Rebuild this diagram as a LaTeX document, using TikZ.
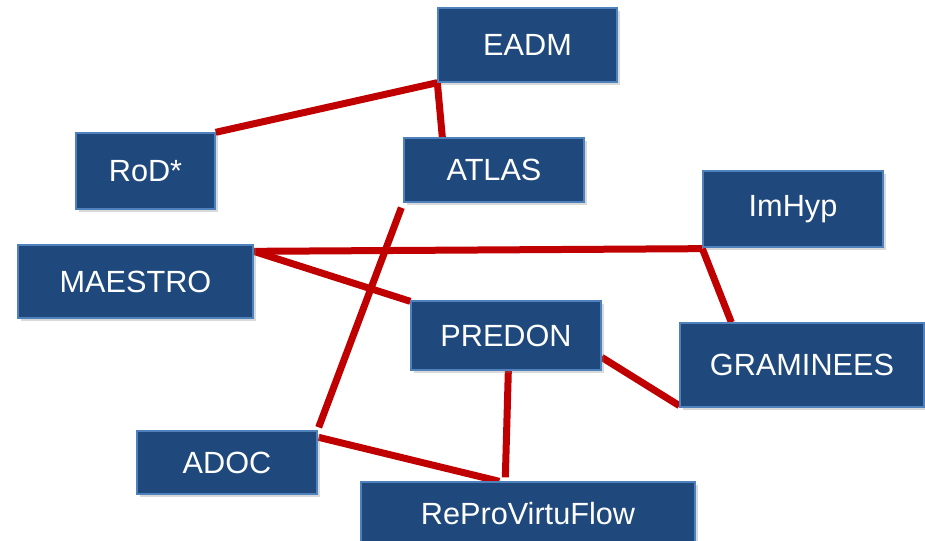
\documentclass[tikz,border=0pt]{standalone}
\usepackage{fontspec}
\setmainfont{Liberation Sans}
\usetikzlibrary{calc,shadows,backgrounds}
\definecolor{boxfill}{RGB}{31,73,125}
\definecolor{boxedge}{RGB}{79,129,189}
\definecolor{linkred}{RGB}{192,0,0}
\tikzset{
	proj/.style={draw=boxedge, line width=1pt, fill=boxfill, text=white,
		inner sep=0pt, font=\fontsize{23}{27}\selectfont,
		drop shadow={shadow xshift=2pt, shadow yshift=-2.5pt, opacity=0.3}},
	size/.style 2 args={minimum width=#1*0.75pt, minimum height=#2*0.75pt},
	link/.style={draw=linkred, line width=5.25pt}
}
\begin{document}
\begin{tikzpicture}[x=0.75pt,y=-0.75pt]
	\useasboundingbox (0,0) rectangle (925,541);
	%projets
	\node[proj,size={179}{74}] (eadm) at (527.5,45) {EADM};
	\node[proj,size={139}{76}] (rod) at (145.5,171) {RoD*};
	\node[proj,size={180}{64}] (atlas) at (494,170) {ATLAS};
	\node[proj,size={180}{76}] (imhyp) at (793,209) {ImHyp};
	\node[proj,size={235}{73}] (maestro) at (135.5,281.5) {MAESTRO};
	\node[proj,size={190}{69}] (predon) at (506,335.5) {PREDON};
	\node[proj,size={244}{84}] (graminees) at (802,365) {GRAMINEES};
	\node[proj,size={180}{63}] (adoc) at (227,462.5) {ADOC};
	\node[proj,size={334}{63}] (repro) at (528,513.5) {ReProVirtuFlow};
	%liens
	\begin{scope}[on background layer]
	\draw [link] (rod.north east) -- (eadm.south west);
	\draw [link] (eadm.south west) -- ($(atlas.north west)+(39,0)$);
	\draw [link] ($(atlas.south west)+(-2,5)$) -- ($(adoc.north east)+(1,-3)$);
	\draw [link] ($(maestro.north east)+(0,7)$) -- ($(imhyp.south west)+(0,1)$);
	\draw [link] ($(imhyp.south west)+(0,1)$) -- ($(graminees.north west)+(52,0)$);
	\draw [link] ($(maestro.north east)+(0,7)$) -- ($(predon.north west)+(0,1)$);
	\draw [link] ($(predon.north east)+(0,57)$) -- ($(graminees.south west)+(0,-2)$);
	\draw [link] ($(predon.south west)+(98,0)$) -- ($(repro.north west)+(145,-4)$);
	\draw [link] ($(adoc.north east)+(1,7)$) -- ($(repro.north west)+(139,0)$);
	\end{scope}
\end{tikzpicture}
\end{document}
